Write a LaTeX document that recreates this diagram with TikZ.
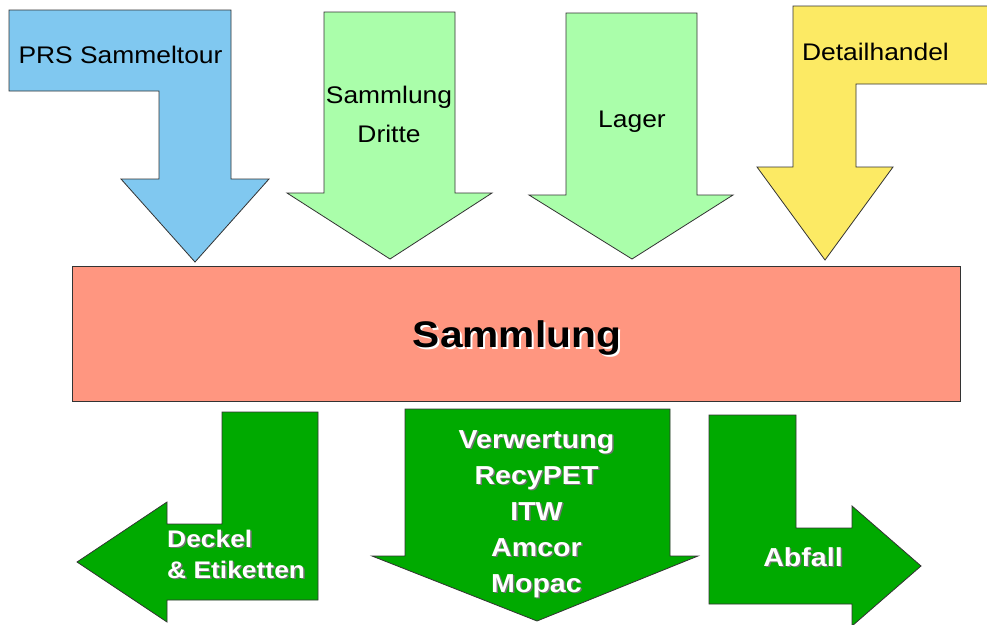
\documentclass[tikz,border=0pt]{standalone}
\usepackage{fontspec}
\setmainfont{Liberation Sans}[FakeStretch=1.1]
\definecolor{cblue}{RGB}{128,200,240}
\definecolor{cgreenl}{RGB}{170,254,170}
\definecolor{cyellow}{RGB}{252,234,100}
\definecolor{csalmon}{RGB}{255,150,128}
\definecolor{cgreend}{RGB}{0,170,0}
\tikzset{
  shp/.style={draw=black!80, line width=0.8pt, line join=miter},
  ttext/.style={font=\fontsize{24}{28}\selectfont, text=black, inner sep=0pt, anchor=base},
  wtext/.style={font=\bfseries\fontsize{26}{30}\selectfont, text=white, inner sep=0pt, anchor=base},
  wshadow/.style={wtext, text=black!55},
  dtext/.style={font=\bfseries\fontsize{24}{28}\selectfont, text=white, inner sep=0pt, anchor=base west},
  dshadow/.style={dtext, text=black!55},
}
\begin{document}
\begin{tikzpicture}[x=1pt,y=-1pt]
\useasboundingbox (0,0) rectangle (987,624);
\clip (0,0) rectangle (987,624);
\fill[white] (0,0) rectangle (987,624);

% top arrows
\draw[shp, fill=cblue] (9,10) -- (231,10) -- (231,179) -- (269,179) -- (195,262) -- (121,179) -- (159,179) -- (159,91) -- (9,91) -- cycle;
\draw[shp, fill=cgreenl] (324,12) -- (455,12) -- (455,193) -- (492,193) -- (390,259) -- (287,193) -- (324,193) -- cycle;
\draw[shp, fill=cgreenl] (566,13) -- (697,13) -- (697,195) -- (733,195) -- (632,259) -- (529,195) -- (566,195) -- cycle;
\draw[shp, fill=cyellow] (793,6) -- (995,6) -- (995,84) -- (856,84) -- (856,167) -- (893,167) -- (825,260) -- (757,167) -- (793,167) -- cycle;

% central box
\node[shp, fill=csalmon, minimum width=888pt, minimum height=135pt, inner sep=0pt] (samm) at (516,333.5) {};

% bottom arrows
\draw[shp, fill=cgreend] (222,412) -- (318,412) -- (318,600) -- (167,600) -- (167,622) -- (77,562) -- (167,502) -- (167,524) -- (222,524) -- cycle;
\draw[shp, fill=cgreend] (405,409) -- (670,409) -- (670,556) -- (698,556) -- (537,621) -- (372,556) -- (405,556) -- cycle;
\draw[shp, fill=cgreend] (709,415) -- (796,415) -- (796,528) -- (852,528) -- (852,506) -- (921,566) -- (852,626) -- (852,604) -- (709,604) -- cycle;

% top texts
\node[ttext] (prs) at (120.5,63) {PRS Sammeltour};
\node[ttext] (sd1) at (389,103) {Sammlung};
\node[ttext] (sd2) at (389,142) {Dritte};
\node[ttext] (lag) at (632,127) {Lager};
\node[ttext] (det) at (875.5,60) {Detailhandel};

% main label
\node[font=\bfseries\fontsize{37}{42}\selectfont, text=white, inner sep=0pt, anchor=base] (sammsh) at (519,349) {Sammlung};
\node[font=\bfseries\fontsize{37}{42}\selectfont, text=black, inner sep=0pt, anchor=base] (sammt) at (517,347) {Sammlung};

% Deckel
\node[dshadow] (d1s) at (168.5,548.5) {Deckel};
\node[dtext] (d1) at (167,547) {Deckel};
\node[dshadow] (d2s) at (168.5,579.5) {\& Etiketten};
\node[dtext] (d2) at (167,578) {\& Etiketten};

% Verwertung
\foreach \t [count=\i] in {Verwertung,RecyPET,ITW,Amcor,Mopac}{
  \node[wshadow] (vs\i) at (538,448+36*\i-36+1.5) {\t};
  \node[wtext] (v\i) at (536.5,448+36*\i-36) {\t};
}

% Abfall
\node[wshadow] (as) at (804.5,567.5) {Abfall};
\node[wtext] (ab) at (803,566) {Abfall};
\end{tikzpicture}
\end{document}
